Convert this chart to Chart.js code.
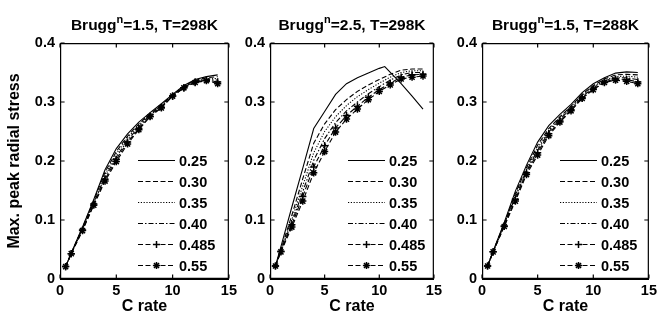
<!DOCTYPE html>
<html>
<head>
<meta charset="utf-8">
<script src="https://cdn.jsdelivr.net/npm/chart.js@4.4.0/dist/chart.umd.min.js"></script>
<style>
  html, body { margin: 0; padding: 0; background: #fff; }
  .panel { position: absolute; top: 0; height: 320px; }
</style>
</head>
<body>
<div class="panel" style="left:0;width:240px"><canvas id="c1"></canvas></div>
<div class="panel" style="left:240px;width:205px"><canvas id="c2"></canvas></div>
<div class="panel" style="left:445px;width:215px"><canvas id="c3"></canvas></div>
<script>
// C rate values (x) and max peak radial stress (y)
const cRate = [0.5, 1, 2, 3, 4, 5, 6, 7, 8, 9, 10, 11, 12, 13, 14];
const cRateB25 = [0.5, 1, 2, 3, 4, 5, 6, 7, 8, 9, 10, 10.5, 12, 13, 14];
const seriesLabels = ['0.25', '0.30', '0.35', '0.40', '0.485', '0.55'];
const xTicks = [0, 5, 10, 15];
const yTicks = [0, 0.1, 0.2, 0.3, 0.4];

// Brugg n = 1.5, T = 298K
const a25  = [0.021, 0.044, 0.088, 0.135, 0.185, 0.221, 0.246, 0.266, 0.282, 0.297, 0.313, 0.328, 0.338, 0.343, 0.346];
const a30  = [0.021, 0.044, 0.087, 0.133, 0.181, 0.216, 0.242, 0.263, 0.280, 0.295, 0.312, 0.327, 0.337, 0.341, 0.343];
const a35  = [0.021, 0.043, 0.086, 0.131, 0.177, 0.212, 0.239, 0.261, 0.279, 0.294, 0.312, 0.326, 0.336, 0.339, 0.340];
const a40  = [0.021, 0.043, 0.085, 0.129, 0.173, 0.207, 0.235, 0.258, 0.278, 0.292, 0.311, 0.325, 0.335, 0.338, 0.337];
const a485 = [0.021, 0.043, 0.083, 0.127, 0.169, 0.203, 0.232, 0.255, 0.276, 0.291, 0.310, 0.324, 0.334, 0.337, 0.334];
const a55  = [0.021, 0.043, 0.082, 0.125, 0.166, 0.199, 0.229, 0.253, 0.275, 0.290, 0.310, 0.324, 0.333, 0.336, 0.331];

// Brugg n = 2.5, T = 298K
const b25  = [0.022, 0.055, 0.122, 0.188, 0.255, 0.284, 0.313, 0.331, 0.341, 0.349, 0.357, 0.360, 0.331, 0.310, 0.288];
const b30  = [0.022, 0.050, 0.108, 0.170, 0.230, 0.263, 0.287, 0.304, 0.318, 0.329, 0.338, 0.347, 0.354, 0.356, 0.356];
const b35  = [0.022, 0.049, 0.101, 0.158, 0.214, 0.250, 0.275, 0.294, 0.309, 0.321, 0.332, 0.342, 0.350, 0.353, 0.353];
const b40  = [0.022, 0.048, 0.096, 0.148, 0.201, 0.238, 0.265, 0.285, 0.300, 0.314, 0.326, 0.337, 0.346, 0.350, 0.350];
const b485 = [0.022, 0.047, 0.092, 0.140, 0.190, 0.226, 0.256, 0.277, 0.293, 0.308, 0.321, 0.332, 0.342, 0.346, 0.347];
const b55  = [0.022, 0.046, 0.088, 0.132, 0.180, 0.216, 0.249, 0.271, 0.288, 0.304, 0.318, 0.329, 0.339, 0.342, 0.344];

// Brugg n = 1.5, T = 288K
const c25  = [0.022, 0.047, 0.096, 0.149, 0.193, 0.232, 0.260, 0.279, 0.296, 0.316, 0.331, 0.341, 0.349, 0.351, 0.350];
const c30  = [0.022, 0.047, 0.094, 0.145, 0.189, 0.227, 0.255, 0.275, 0.293, 0.313, 0.328, 0.339, 0.346, 0.347, 0.346];
const c35  = [0.022, 0.046, 0.093, 0.142, 0.186, 0.222, 0.252, 0.273, 0.291, 0.311, 0.326, 0.337, 0.343, 0.344, 0.342];
const c40  = [0.022, 0.046, 0.092, 0.139, 0.183, 0.218, 0.249, 0.271, 0.289, 0.309, 0.324, 0.336, 0.341, 0.341, 0.338];
const c485 = [0.022, 0.046, 0.090, 0.135, 0.180, 0.214, 0.246, 0.268, 0.287, 0.307, 0.322, 0.334, 0.339, 0.338, 0.334];
const c55  = [0.022, 0.046, 0.089, 0.132, 0.177, 0.210, 0.243, 0.266, 0.285, 0.306, 0.321, 0.333, 0.337, 0.335, 0.331];

const FONT = "'Liberation Sans', Arial, sans-serif";

// line styles in legend order: solid, dashed, dotted, dash-dot, dashed+plus, dashed+star
const styles = [
  { dash: [], point: false },
  { dash: [5, 2.5], point: false },
  { dash: [1.2, 1.6], point: false },
  { dash: [5, 2, 1.5, 2], point: false },
  { dash: [5, 2.5], point: 'cross' },
  { dash: [5, 2.5], point: 'star' }
];

function pts(xs, ys) {
  return xs.map((x, i) => ({ x: x, y: ys[i] }));
}

function makeDatasets(xsList, ysList) {
  return ysList.map((ys, i) => ({
    label: seriesLabels[i],
    data: pts(xsList[i], ys),
    borderColor: '#000',
    backgroundColor: '#000',
    borderWidth: 1.1,
    borderDash: styles[i].dash,
    tension: 0,
    pointStyle: styles[i].point || 'circle',
    pointRadius: styles[i].point ? 3.6 : 0,
    pointBorderWidth: 1.5,
    pointBorderColor: '#000',
    pointBackgroundColor: '#000'
  }));
}

// box with inward ticks, title with superscript n, in-plot legend
const decoPlugin = {
  id: 'deco',
  afterDraw(chart, args, opts) {
    const ctx = chart.ctx;
    const a = chart.chartArea;
    const sx = chart.scales.x, sy = chart.scales.y;
    ctx.save();
    ctx.setLineDash([]);
    ctx.strokeStyle = '#000';
    ctx.fillStyle = '#000';
    ctx.lineWidth = 1.2;
    const L = a.left + 0.6, R = a.right - 0.6, T = a.top + 0.6, B = a.bottom - 0.6;
    ctx.beginPath();
    ctx.moveTo(L, T); ctx.lineTo(R, T); ctx.lineTo(R, B); ctx.lineTo(L, B); ctx.closePath();
    ctx.stroke();
    const tl = 4;
    ctx.beginPath();
    xTicks.forEach(v => {
      const px = sx.getPixelForValue(v);
      ctx.moveTo(px, B); ctx.lineTo(px, B - tl);
      ctx.moveTo(px, T); ctx.lineTo(px, T + tl);
    });
    yTicks.forEach(v => {
      const py = sy.getPixelForValue(v);
      ctx.moveTo(L, py); ctx.lineTo(L + tl, py);
      ctx.moveTo(R, py); ctx.lineTo(R - tl, py);
    });
    ctx.stroke();

    ctx.textBaseline = 'alphabetic';
    const big = 'bold 15.5px ' + FONT, small = 'bold 11px ' + FONT;
    ctx.font = big;
    const w1 = ctx.measureText('Brugg').width;
    const w3 = ctx.measureText(opts.rest).width;
    ctx.font = small;
    const w2 = ctx.measureText('n').width;
    let tx = (a.left + a.right) / 2 - (w1 + w2 + w3) / 2;
    const ty = 30;
    ctx.font = big; ctx.fillText('Brugg', tx, ty); tx += w1;
    ctx.font = small; ctx.fillText('n', tx, ty - 7); tx += w2;
    ctx.font = big; ctx.fillText(opts.rest, tx, ty);

    ctx.font = 'bold 14.5px ' + FONT;
    ctx.textBaseline = 'middle';
    chart.data.datasets.forEach((ds, i) => {
      const y = Math.round(a.bottom - 119 + i * 21) + 0.5;
      const x0 = a.left + 78, x1 = a.left + 115;
      ctx.setLineDash(ds.borderDash);
      ctx.lineWidth = ds.borderWidth;
      ctx.beginPath();
      ctx.moveTo(x0, y); ctx.lineTo(x1, y);
      ctx.stroke();
      ctx.setLineDash([]);
      if (ds.pointRadius > 0) {
        ctx.lineWidth = ds.pointBorderWidth;
        Chart.helpers.drawPoint(ctx, { pointStyle: ds.pointStyle, radius: ds.pointRadius, borderWidth: ds.pointBorderWidth, rotation: 0 }, (x0 + x1) / 2, y);
      }
      ctx.fillText(ds.label, a.left + 119, y + 1);
    });
    ctx.restore();
  }
};

function makeChart(id, xsList, ysList, rest, axisW, padRight, showYTitle) {
  const tickFont = { family: FONT, size: 14.5, weight: 'bold' };
  return new Chart(document.getElementById(id), {
    type: 'line',
    data: { datasets: makeDatasets(xsList, ysList) },
    plugins: [decoPlugin],
    options: {
      responsive: true,
      maintainAspectRatio: false,
      animation: false,
      layout: { padding: { top: 43, right: padRight, left: 0, bottom: 0 } },
      plugins: {
        legend: { display: false },
        title: { display: false },
        tooltip: { enabled: false },
        deco: { rest: rest }
      },
      scales: {
        x: {
          type: 'linear',
          min: 0, max: 15,
          afterFit: s => { s.height = 41; },
          afterBuildTicks: s => { s.ticks = xTicks.map(v => ({ value: v })); },
          grid: { display: false, drawTicks: false },
          border: { display: true, color: '#000', width: 1 },
          ticks: { color: '#000', padding: 3, maxRotation: 0, font: tickFont },
          title: { display: true, text: 'C rate', color: '#000', padding: { top: 0, bottom: 4 }, font: { family: FONT, size: 16, weight: 'bold' } }
        },
        y: {
          min: 0, max: 0.4,
          afterFit: s => { s.width = axisW; },
          afterBuildTicks: s => { s.ticks = yTicks.map(v => ({ value: v })); },
          grid: { display: false, drawTicks: false },
          border: { display: true, color: '#000', width: 1 },
          ticks: {
            color: '#000', padding: 5, font: tickFont,
            callback: v => (v === 0 ? '0' : v.toFixed(1))
          },
          title: { display: showYTitle, text: 'Max. peak radial stress', color: '#000', padding: { top: 5, bottom: 0 }, font: { family: FONT, size: 16, weight: 'bold' } }
        }
      }
    }
  });
}

const sixA = [cRate, cRate, cRate, cRate, cRate, cRate];
const sixB = [cRateB25, cRate, cRate, cRate, cRate, cRate];
makeChart('c1', sixA, [a25, a30, a35, a40, a485, a55], '=1.5, T=298K', 60, 10, true);
makeChart('c2', sixB, [b25, b30, b35, b40, b485, b55], '=2.5, T=298K', 30, 8, false);
makeChart('c3', sixA, [c25, c30, c35, c40, c485, c55], '=1.5, T=288K', 37, 9, false);
</script>
</body>
</html>
